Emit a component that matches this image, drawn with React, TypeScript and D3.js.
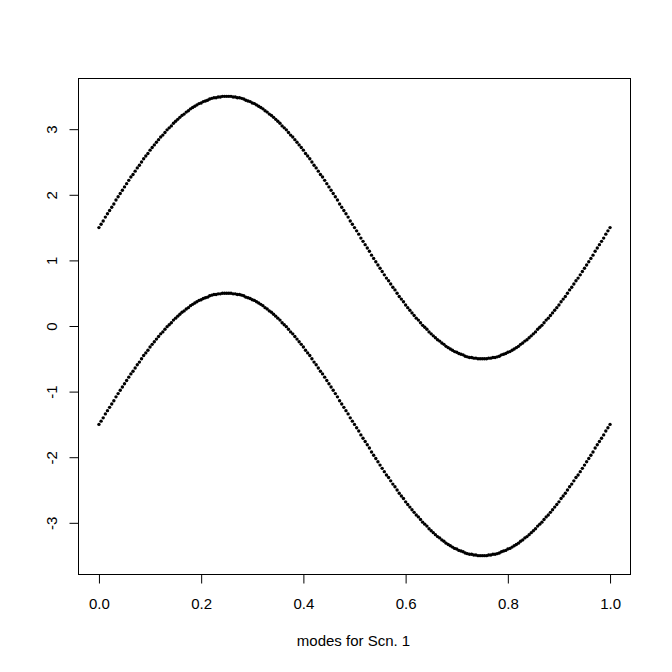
import React, { useEffect, useRef } from "react";
import * as d3 from "d3";

const width = 672;
const height = 672;
const margin = { top: 78, right: 41.5, bottom: 98, left: 78.5 };
const font = "'Liberation Sans', Arial, sans-serif";

// modes, sampled evenly over [0, 1]
const upperMode = [
  1.50, 1.55, 1.60, 1.66, 1.71, 1.76, 1.81, 1.86, 1.92, 1.97,
  2.02, 2.07, 2.12, 2.17, 2.22, 2.27, 2.31, 2.36, 2.41, 2.45,
  2.50, 2.55, 2.59, 2.63, 2.68, 2.72, 2.76, 2.80, 2.84, 2.88,
  2.91, 2.95, 2.99, 3.02, 3.05, 3.09, 3.12, 3.15, 3.18, 3.21,
  3.23, 3.26, 3.28, 3.31, 3.33, 3.35, 3.37, 3.39, 3.40, 3.42,
  3.43, 3.44, 3.46, 3.47, 3.48, 3.48, 3.49, 3.49, 3.50, 3.50,
  3.50,
  3.50, 3.50, 3.49, 3.49, 3.48, 3.48, 3.47, 3.46, 3.44, 3.43,
  3.42, 3.40, 3.39, 3.37, 3.35, 3.33, 3.31, 3.28, 3.26, 3.23,
  3.21, 3.18, 3.15, 3.12, 3.09, 3.05, 3.02, 2.99, 2.95, 2.91,
  2.88, 2.84, 2.80, 2.76, 2.72, 2.68, 2.63, 2.59, 2.55, 2.50,
  2.45, 2.41, 2.36, 2.31, 2.27, 2.22, 2.17, 2.12, 2.07, 2.02,
  1.97, 1.92, 1.86, 1.81, 1.76, 1.71, 1.66, 1.60, 1.55, 1.50,
  1.45, 1.40, 1.34, 1.29, 1.24, 1.19, 1.14, 1.08, 1.03, 0.98,
  0.93, 0.88, 0.83, 0.78, 0.73, 0.69, 0.64, 0.59, 0.55, 0.50,
  0.45, 0.41, 0.37, 0.32, 0.28, 0.24, 0.20, 0.16, 0.12, 0.09,
  0.05, 0.01, -0.02, -0.05, -0.09, -0.12, -0.15, -0.18, -0.21, -0.23,
  -0.26, -0.28, -0.31, -0.33, -0.35, -0.37, -0.39, -0.40, -0.42, -0.43,
  -0.44, -0.46, -0.47, -0.48, -0.48, -0.49, -0.49, -0.50, -0.50, -0.50,
  -0.50, -0.50, -0.49, -0.49, -0.48, -0.48, -0.47, -0.46, -0.44, -0.43,
  -0.42, -0.40, -0.39, -0.37, -0.35, -0.33, -0.31, -0.28, -0.26, -0.23,
  -0.21, -0.18, -0.15, -0.12, -0.09, -0.05, -0.02, 0.01, 0.05, 0.09,
  0.12, 0.16, 0.20, 0.24, 0.28, 0.32, 0.37, 0.41, 0.45, 0.50,
  0.55, 0.59, 0.64, 0.69, 0.73, 0.78, 0.83, 0.88, 0.93, 0.98,
  1.03, 1.08, 1.14, 1.19, 1.24, 1.29, 1.34, 1.40, 1.45, 1.50
];

const lowerMode = [
  -1.50, -1.45, -1.40, -1.34, -1.29, -1.24, -1.19, -1.14, -1.08, -1.03,
  -0.98, -0.93, -0.88, -0.83, -0.78, -0.73, -0.69, -0.64, -0.59, -0.55,
  -0.50, -0.45, -0.41, -0.37, -0.32, -0.28, -0.24, -0.20, -0.16, -0.12,
  -0.09, -0.05, -0.01, 0.02, 0.05, 0.09, 0.12, 0.15, 0.18, 0.21,
  0.23, 0.26, 0.28, 0.31, 0.33, 0.35, 0.37, 0.39, 0.40, 0.42,
  0.43, 0.44, 0.46, 0.47, 0.48, 0.48, 0.49, 0.49, 0.50, 0.50,
  0.50,
  0.50, 0.50, 0.49, 0.49, 0.48, 0.48, 0.47, 0.46, 0.44, 0.43,
  0.42, 0.40, 0.39, 0.37, 0.35, 0.33, 0.31, 0.28, 0.26, 0.23,
  0.21, 0.18, 0.15, 0.12, 0.09, 0.05, 0.02, -0.01, -0.05, -0.09,
  -0.12, -0.16, -0.20, -0.24, -0.28, -0.32, -0.37, -0.41, -0.45, -0.50,
  -0.55, -0.59, -0.64, -0.69, -0.73, -0.78, -0.83, -0.88, -0.93, -0.98,
  -1.03, -1.08, -1.14, -1.19, -1.24, -1.29, -1.34, -1.40, -1.45, -1.50,
  -1.55, -1.60, -1.66, -1.71, -1.76, -1.81, -1.86, -1.92, -1.97, -2.02,
  -2.07, -2.12, -2.17, -2.22, -2.27, -2.31, -2.36, -2.41, -2.45, -2.50,
  -2.55, -2.59, -2.63, -2.68, -2.72, -2.76, -2.80, -2.84, -2.88, -2.91,
  -2.95, -2.99, -3.02, -3.05, -3.09, -3.12, -3.15, -3.18, -3.21, -3.23,
  -3.26, -3.28, -3.31, -3.33, -3.35, -3.37, -3.39, -3.40, -3.42, -3.43,
  -3.44, -3.46, -3.47, -3.48, -3.48, -3.49, -3.49, -3.50, -3.50, -3.50,
  -3.50, -3.50, -3.49, -3.49, -3.48, -3.48, -3.47, -3.46, -3.44, -3.43,
  -3.42, -3.40, -3.39, -3.37, -3.35, -3.33, -3.31, -3.28, -3.26, -3.23,
  -3.21, -3.18, -3.15, -3.12, -3.09, -3.05, -3.02, -2.99, -2.95, -2.91,
  -2.88, -2.84, -2.80, -2.76, -2.72, -2.68, -2.63, -2.59, -2.55, -2.50,
  -2.45, -2.41, -2.36, -2.31, -2.27, -2.22, -2.17, -2.12, -2.07, -2.02,
  -1.97, -1.92, -1.86, -1.81, -1.76, -1.71, -1.66, -1.60, -1.55, -1.50
];

const xTicks = [0, 0.2, 0.4, 0.6, 0.8, 1.0];
const yTicks = [-3, -2, -1, 0, 1, 2, 3];
const xLabel = "modes for Scn. 1";

export default function App() {
  const xAxisRef = useRef<SVGGElement>(null);
  const yAxisRef = useRef<SVGGElement>(null);

  // R style: pad the data range by 4% on each side
  const xScale = d3
    .scaleLinear()
    .domain([-0.04, 1.04])
    .range([margin.left, width - margin.right]);
  const yScale = d3
    .scaleLinear()
    .domain([-3.78, 3.78])
    .range([height - margin.bottom, margin.top]);

  const n = upperMode.length;
  const xAt = (i: number) => i / (n - 1);

  useEffect(() => {
    const xAxis = d3
      .axisBottom(xScale)
      .tickValues(xTicks)
      .tickSize(9)
      .tickPadding(0)
      .tickFormat(d3.format(".1f"));
    const gx = d3.select(xAxisRef.current).call(xAxis);
    gx.select(".domain").remove();
    gx.selectAll("text").attr("y", 34).attr("dy", null);

    const yAxis = d3
      .axisLeft(yScale)
      .tickValues(yTicks)
      .tickSize(9)
      .tickFormat((d) => String(d));
    const gy = d3.select(yAxisRef.current).call(yAxis);
    gy.select(".domain").remove();
    gy.selectAll("text")
      .attr("x", null)
      .attr("dy", null)
      .attr("text-anchor", "middle")
      .attr("transform", "translate(-22,0) rotate(-90)");

    for (const g of [gx, gy]) {
      g.attr("font-family", font).attr("font-size", 15);
      g.selectAll("text").attr("fill", "#000");
      g.selectAll("line").attr("stroke", "#000");
    }
  }, []);

  return (
    <svg
      width={width}
      height={height}
      style={{ position: "absolute", left: 0, top: 0, background: "#fff" }}
    >
      <rect
        x={margin.left}
        y={margin.top + 0.5}
        width={width - margin.left - margin.right}
        height={height - margin.top - margin.bottom}
        fill="none"
        stroke="#000"
      />
      <g>
        {upperMode.map((v, i) => (
          <circle key={"u" + i} cx={xScale(xAt(i))} cy={yScale(v)} r={1.7} fill="#000" />
        ))}
        {lowerMode.map((v, i) => (
          <circle key={"l" + i} cx={xScale(xAt(i))} cy={yScale(v)} r={1.7} fill="#000" />
        ))}
      </g>
      <g ref={xAxisRef} transform={`translate(0, ${height - margin.bottom + 0.5})`} />
      <g ref={yAxisRef} transform={`translate(${margin.left}, 0)`} />
      <text
        x={353.5}
        y={646}
        textAnchor="middle"
        fontFamily={font}
        fontSize={15}
        fill="#000"
      >
        {xLabel}
      </text>
    </svg>
  );
}
